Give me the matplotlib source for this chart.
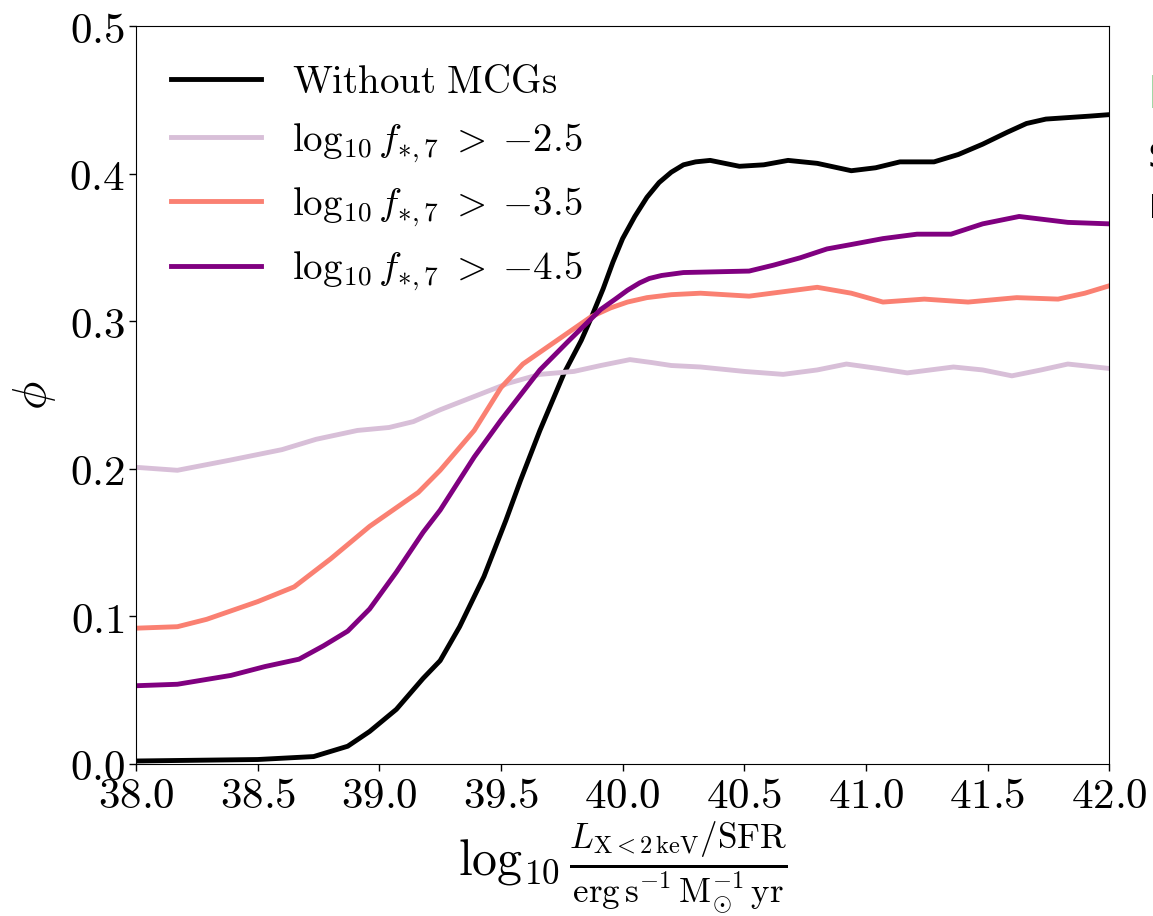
import numpy as np
import matplotlib
matplotlib.use("Agg")
import matplotlib.pyplot as plt
from matplotlib.ticker import FuncFormatter

plt.rcParams["mathtext.fontset"] = "cm"
plt.rcParams["font.family"] = "serif"

# curves
x_none = [38.0, 38.5, 38.73, 38.87, 38.96, 39.07, 39.18, 39.25, 39.33, 39.43,
          39.52, 39.58, 39.66, 39.76, 39.83, 39.87, 39.92, 39.96, 40.0, 40.05,
          40.1, 40.15, 40.2, 40.25, 40.3, 40.36, 40.48, 40.58, 40.68, 40.8,
          40.94, 41.04, 41.14, 41.28, 41.38, 41.48, 41.58, 41.66, 41.74, 41.83,
          41.92, 42.0]
y_none = [0.002, 0.003, 0.005, 0.012, 0.022, 0.037, 0.058, 0.070, 0.093, 0.127,
          0.165, 0.192, 0.226, 0.265, 0.287, 0.302, 0.322, 0.340, 0.356, 0.371,
          0.384, 0.394, 0.401, 0.406, 0.408, 0.409, 0.405, 0.406, 0.409, 0.407,
          0.402, 0.404, 0.408, 0.408, 0.413, 0.420, 0.428, 0.434, 0.437, 0.438,
          0.439, 0.440]

x_25 = [38.0, 38.17, 38.39, 38.6, 38.74, 38.91, 39.04, 39.14, 39.25, 39.39,
        39.53, 39.66, 39.8, 39.91, 40.03, 40.12, 40.2, 40.32, 40.5, 40.66,
        40.8, 40.92, 41.05, 41.17, 41.36, 41.48, 41.6, 41.72, 41.83, 42.0]
y_25 = [0.201, 0.199, 0.206, 0.213, 0.220, 0.226, 0.228, 0.232, 0.240, 0.249,
        0.258, 0.264, 0.266, 0.270, 0.274, 0.272, 0.270, 0.269, 0.266, 0.264,
        0.267, 0.271, 0.268, 0.265, 0.269, 0.267, 0.263, 0.267, 0.271, 0.268]

x_35 = [38.0, 38.17, 38.29, 38.5, 38.65, 38.8, 38.96, 39.16, 39.25, 39.39,
        39.5, 39.59, 39.73, 39.87, 39.95, 40.02, 40.1, 40.2, 40.32, 40.52,
        40.66, 40.8, 40.94, 41.07, 41.24, 41.42, 41.62, 41.79, 41.9, 42.0]
y_35 = [0.092, 0.093, 0.098, 0.110, 0.120, 0.139, 0.161, 0.184, 0.199, 0.226,
        0.255, 0.271, 0.287, 0.303, 0.309, 0.313, 0.316, 0.318, 0.319, 0.317,
        0.320, 0.323, 0.319, 0.313, 0.315, 0.313, 0.316, 0.315, 0.319, 0.324]

x_45 = [38.0, 38.17, 38.39, 38.53, 38.67, 38.77, 38.87, 38.96, 39.07, 39.18,
        39.25, 39.39, 39.5, 39.66, 39.78, 39.91, 39.97, 40.02, 40.07, 40.11,
        40.16, 40.25, 40.52, 40.62, 40.73, 40.84, 40.94, 41.07, 41.21, 41.35,
        41.48, 41.63, 41.73, 41.83, 42.0]
y_45 = [0.053, 0.054, 0.060, 0.066, 0.071, 0.080, 0.090, 0.105, 0.130, 0.157,
        0.172, 0.208, 0.233, 0.267, 0.287, 0.308, 0.315, 0.321, 0.326, 0.329,
        0.331, 0.333, 0.334, 0.338, 0.343, 0.349, 0.352, 0.356, 0.359, 0.359,
        0.366, 0.371, 0.369, 0.367, 0.366]

labels = [r"$\mathrm{Without\ MCGs}$",
          r"$\log_{10} f_{*,7}\;>\;{-2.5}$",
          r"$\log_{10} f_{*,7}\;>\;{-3.5}$",
          r"$\log_{10} f_{*,7}\;>\;{-4.5}$"]
colors = ["black", "thistle", "salmon", "purple"]

fig = plt.figure(figsize=(11.53, 9.16), dpi=100)
ax = fig.add_axes([0.1180, 0.166, 0.8440, 0.8055])

for xs, ys, lab, c in zip([x_none, x_25, x_35, x_45], [y_none, y_25, y_35, y_45],
                          labels, colors):
    ax.plot(xs, ys, color=c, lw=3.5, label=lab, solid_joinstyle="round")

ax.set_xlim(38, 42)
ax.set_ylim(0, 0.5)
ax.set_xticks(np.arange(38, 42.01, 0.5))
ax.set_yticks(np.arange(0, 0.51, 0.1))
fmt = FuncFormatter(lambda v, p: r"$%.1f$" % v)
ax.xaxis.set_major_formatter(fmt)
ax.yaxis.set_major_formatter(fmt)
ax.tick_params(direction="out", length=5, width=1, labelsize=31, pad=3)

ax.set_ylabel(r"$\phi$", fontsize=34, labelpad=8)
ax.set_xlabel(r"$\log_{10}\frac{L_{\mathrm{X}<2\,\mathrm{keV}}/\mathrm{SFR}}"
              r"{\mathrm{erg\,s^{-1}\,M_{\odot}^{-1}\,yr}}$", fontsize=36, labelpad=2)

ax.legend(loc="upper left", frameon=False, fontsize=28, handlelength=2.3,
          handletextpad=0.8, labelspacing=0.53, borderaxespad=0.3,
          bbox_to_anchor=(0.008, 0.986))

# text from the neighbouring slide, cut by the edge
fig.text(0.9952, 0.882, "L", color="#6cc070", fontsize=32, family="DejaVu Sans")
fig.text(0.9955, 0.8166, "s", color="black", fontsize=32, family="DejaVu Sans")
fig.text(0.9955, 0.762, "r", color="black", fontsize=32, family="DejaVu Sans")

fig.savefig("out.png", dpi=100)
